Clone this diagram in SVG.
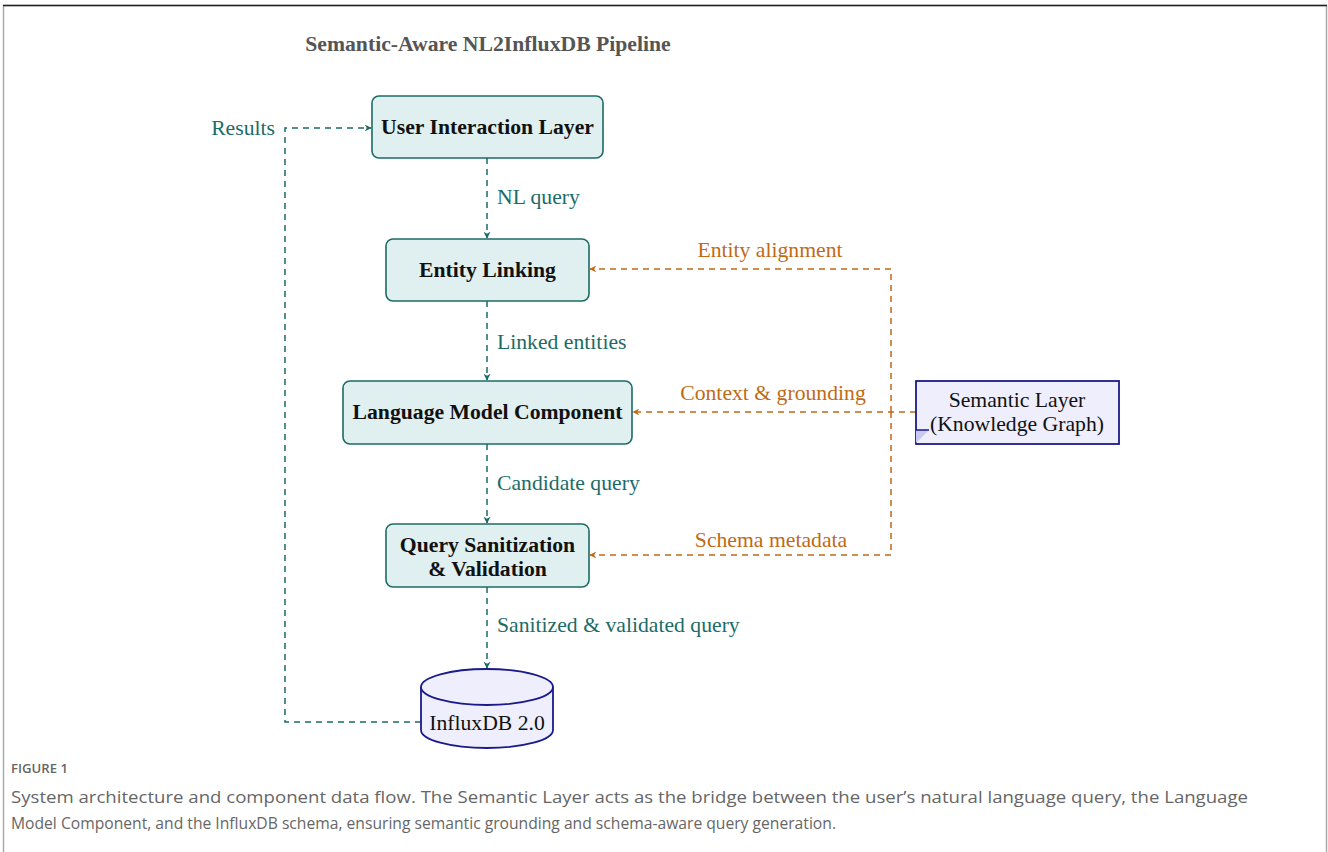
<svg xmlns="http://www.w3.org/2000/svg" width="1328" height="852" viewBox="0 0 1328 852">
<style>
.node{fill:#e0efef;stroke:#1b6b67;stroke-width:1.6}
.blue{fill:#eeeefc;stroke:#1a1a8a;stroke-width:1.8}
.lbl{font-family:"Liberation Serif","Times New Roman",serif;font-size:21.7px;font-weight:bold;fill:#111;text-anchor:middle}
.reg{font-family:"Liberation Serif","Times New Roman",serif;font-size:21.7px;fill:#111;text-anchor:middle}
.tl{font-family:"Liberation Serif","Times New Roman",serif;font-size:21.7px;fill:#1b6b67}
.ol{font-family:"Liberation Serif","Times New Roman",serif;font-size:21.7px;fill:#c06a16;text-anchor:middle}
.te{fill:none;stroke:#1b6b67;stroke-width:1.5;stroke-dasharray:6,5}
.oe{fill:none;stroke:#c06a16;stroke-width:1.5;stroke-dasharray:6,5}
.cap{font-family:"Open Sans","Noto Sans",sans-serif;fill:#666}
</style>
<defs>
<marker id="at" viewBox="0 0 10 10" refX="9" refY="5" markerWidth="7" markerHeight="7" markerUnits="userSpaceOnUse" orient="auto"><path d="M0,0 L10,5 L0,10 L3,5 Z" fill="#1b6b67"/></marker>
<marker id="ao" viewBox="0 0 10 10" refX="9" refY="5" markerWidth="7" markerHeight="7" markerUnits="userSpaceOnUse" orient="auto"><path d="M0,0 L10,5 L0,10 L3,5 Z" fill="#c06a16"/></marker>
</defs>
<rect width="1328" height="852" fill="#fff"/>
<path d="M3.5,852 V5.5 H1326.5 V852" fill="none" stroke="#aaa" stroke-width="1.5"/>
<path d="M3,5.5 H1327" stroke="#222" stroke-width="1.5"/>
<text x="488" y="51" font-family="Liberation Serif,Times New Roman,serif" font-size="21.7" font-weight="bold" fill="#555" text-anchor="middle">Semantic-Aware NL2InfluxDB Pipeline</text>

<g id="connectors">
<path class="te" d="M487,158 V238" marker-end="url(#at)"/>
<path class="te" d="M487,301 V380" marker-end="url(#at)"/>
<path class="te" d="M487,444 V523" marker-end="url(#at)"/>
<path class="te" d="M487,587 V668" marker-end="url(#at)"/>
<path class="te" d="M421,722 H285 V128 H371" marker-end="url(#at)"/>
<path class="oe" d="M916,412 H633" marker-end="url(#ao)"/>
<path class="oe" d="M891,412 V269 H590" marker-end="url(#ao)"/>
<path class="oe" d="M891,412 V555 H590" marker-end="url(#ao)"/>
<text class="tl" x="497" y="204">NL query</text>
<text class="tl" x="497" y="349">Linked entities</text>
<text class="tl" x="497" y="490">Candidate query</text>
<text class="tl" x="497" y="632">Sanitized &amp; validated query</text>
<text class="tl" x="275" y="135" text-anchor="end">Results</text>
<text class="ol" x="770" y="257">Entity alignment</text>
<text class="ol" x="773" y="400">Context &amp; grounding</text>
<text class="ol" x="771" y="547">Schema metadata</text>
</g>

<g id="user-interaction">
<rect class="node" x="372" y="96" width="231" height="62" rx="7"/>
<text class="lbl" x="487.5" y="134">User Interaction Layer</text>
</g>
<g id="entity-linking">
<rect class="node" x="386" y="239" width="203" height="62" rx="7"/>
<text class="lbl" x="487.5" y="277">Entity Linking</text>
</g>
<g id="language-model">
<rect class="node" x="343" y="381" width="289" height="63" rx="7"/>
<text class="lbl" x="487.5" y="419">Language Model Component</text>
</g>
<g id="query-sanitization">
<rect class="node" x="386" y="524" width="203" height="63" rx="7"/>
<text class="lbl" x="487.5" y="552">Query Sanitization</text>
<text class="lbl" x="487.5" y="576">&amp; Validation</text>
</g>
<g id="semantic-layer">
<rect class="blue" x="916" y="381" width="203" height="63"/>
<path d="M916,443 V430 H929 Z" fill="#c8c8f4"/>
<path d="M916,430 H929" stroke="#1a1a8a" stroke-width="1.5"/>
<text class="reg" x="1017" y="407">Semantic Layer</text>
<text class="reg" x="1017" y="431">(Knowledge Graph)</text>
</g>
<g id="influxdb">
<path class="blue" d="M421,687 V730 A66,18 0 0 0 553,730 V687 A66,18 0 0 0 421,687 Z"/>
<path d="M421,687 A66,18 0 0 0 553,687" fill="none" stroke="#1a1a8a" stroke-width="1.8"/>
<text class="reg" x="487" y="730">InfluxDB 2.0</text>
</g>

<text class="cap" x="11" y="773" font-size="12.5" font-weight="600" textLength="57" lengthAdjust="spacingAndGlyphs">FIGURE 1</text>
<text class="cap" x="11" y="803" font-size="17" textLength="1237" lengthAdjust="spacingAndGlyphs">System architecture and component data flow. The Semantic Layer acts as the bridge between the user’s natural language query, the Language</text>
<text class="cap" x="11" y="829" font-size="17" textLength="825" lengthAdjust="spacingAndGlyphs">Model Component, and the InfluxDB schema, ensuring semantic grounding and schema-aware query generation.</text>
</svg>
